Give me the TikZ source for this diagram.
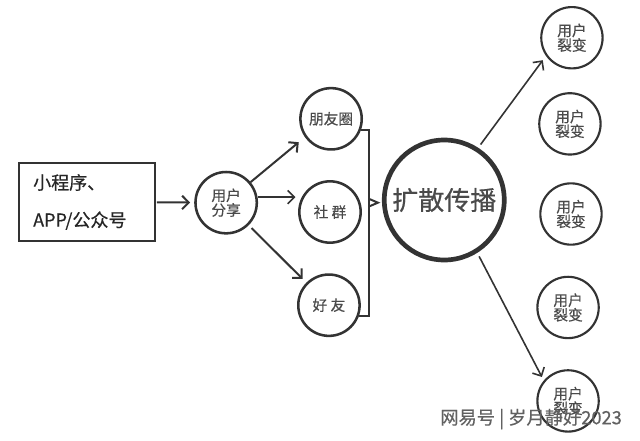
\documentclass[tikz,border=0pt]{standalone}
\usepackage{fontspec}
\setmainfont[RawFeature={embolden=0.5}]{Noto Sans CJK SC}
\usetikzlibrary{arrows.meta, positioning}
\definecolor{inkgray}{HTML}{333333}
\definecolor{textgray}{HTML}{4A4A4A}

\begin{document}
\begin{tikzpicture}[
    srcbox/.style={rectangle, draw=inkgray, line width=1.5pt, minimum width=102pt, minimum height=59pt, text width=80pt, align=left, font=\fontsize{13.5}{28}\selectfont, text=black!85},
    usernode/.style={circle, draw=inkgray, line width=1.9pt, minimum size=46pt, inner sep=0pt, align=center, text=textgray, font=\fontsize{11}{11}\selectfont},
    fission/.style={usernode, line width=1.6pt},
    hub/.style={circle, draw=inkgray, line width=3.5pt, minimum size=90pt, inner sep=0pt, text=textgray, font=\fontsize{19.5}{20}\selectfont},
    arrow/.style={-{Straight Barb[length=5pt,width=10pt]}, line width=1.5pt, draw=inkgray},
    thin arrow/.style={arrow, line width=1.2pt},
    brace/.style={draw=inkgray, line width=1.5pt}
]
    \useasboundingbox (-64.9pt,151.5pt) rectangle (415.1pt,-178.5pt);

    % Source box
    \node[srcbox] (source) {小程序、\\APP/公众号};

    % User share
    \node[usernode, right=29pt of source, yshift=-0.5pt] (share) {用户\\分享};

    % Channels
    \node[usernode, right=30pt of share, yshift=-7pt] (groups) {社 群};
    \node[usernode, above=22pt of groups, xshift=0.8pt] (moments) {朋友圈};
    \node[usernode, below=22pt of groups, xshift=-0.8pt] (friends) {好 友};

    % Spread
    \node[hub, right=15pt of groups, yshift=9pt] (spread) {扩散传播};

    % User fission
    \node[fission, right=24.5pt of spread, yshift=-10.5pt] (fissionc) {用户\\裂变};
    \node[fission, above=20pt of fissionc, xshift=-0.8pt] (fissionb) {用户\\裂变};
    \node[fission, above=17pt of fissionb, xshift=1.5pt] (fissiona) {用户\\裂变};
    \node[fission, below=22.5pt of fissionc, xshift=-2.2pt] (fissiond) {用户\\裂变};
    \node[fission, below=22.5pt of fissiond] (fissione) {用户\\裂变};

    % Connect components
    \draw[arrow, shorten <=1pt, shorten >=3pt] (source) -- (share);
    \draw[arrow, shorten >=6pt] (share.40) -- (moments.215);
    \draw[thin arrow, shorten >=2pt] (share.10) -- (share.10 -| groups.west);
    \draw[arrow, shorten <=3pt, shorten >=4pt] (share.-45) -- (friends.135);

    % Brace
    \coordinate (brace) at (spread.west |- share.east);
    \coordinate (bracemid) at ([xshift=-10pt]brace);
    \draw[brace] (moments.-20) -| (bracemid) |- (friends.-20);
    \draw[brace] ([yshift=3pt]bracemid) -- ([xshift=-3pt]brace) -- ([yshift=-3pt]bracemid);

    % Spread to fission
    \draw[thin arrow, shorten <=3pt, shorten >=4pt] (spread.57) -- (fissiona.215);
    \draw[thin arrow, shorten <=3pt, shorten >=3pt] (spread.-58) -- (fissione.140);

    % Watermark
    \node[text=black!62, font=\fontsize{13.7}{14}\selectfont] (mark) at (333.4pt,-162.8pt) {网易号 | 岁月静好2023};
\end{tikzpicture}
\end{document}
